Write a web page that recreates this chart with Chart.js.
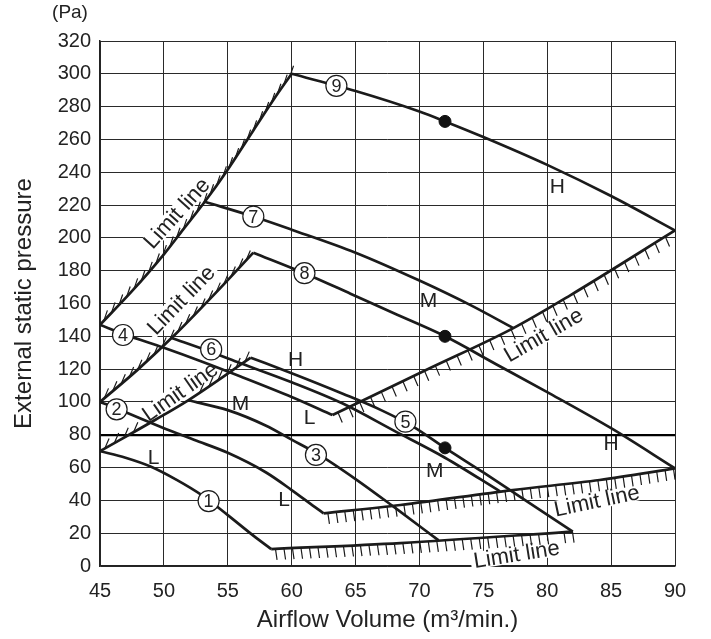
<!DOCTYPE html>
<html>
<head>
<meta charset="utf-8">
<script src="https://cdn.jsdelivr.net/npm/chart.js@4.4.0/dist/chart.umd.min.js"></script>
<style>
  html, body { margin: 0; padding: 0; background: #fff; }
  #wrap { width: 711px; height: 639px; position: relative; }
</style>
</head>
<body>
<div id="wrap"><canvas id="fanChart" width="711" height="639"></canvas></div>
<script>
// ---------------------------------------------------------
// Fan curves: [airflow m3/min, external static pressure Pa]
// ---------------------------------------------------------
const curve1 = [[45, 70], [47, 66], [49, 60.5], [51, 52.5], [53, 43], [55, 31], [57, 18.5], [58.4, 10.3]];
const curve2 = [[45, 100], [46.3, 96], [50, 84], [52.4, 76.8], [55, 69], [58, 57], [60, 46.3], [61.8, 36], [62.5, 32.1]];
const curve3 = [[51.9, 101], [55, 95], [58, 85.5], [60, 77], [62, 68.5], [65, 53], [68, 36], [71.5, 15.6]];
const curve4 = [[45, 147], [47, 141], [50, 133], [53, 124.5], [56, 115.5], [60, 103], [63.2, 92]];
const curve5 = [[56.8, 127], [60, 117.5], [64, 105], [67, 95], [69.5, 85], [72, 72], [75, 57], [78, 41.5], [82, 21]];
const curve6 = [[50.6, 139], [53.5, 131], [56, 123.6], [60, 112], [64, 99], [68, 82.5], [72, 66], [76.3, 45.5]];
const curve7 = [[53.2, 222], [57, 213], [60, 205], [65, 191], [70, 174], [74, 159], [77.35, 145]];
const curve8 = [[57, 191], [61, 178.5], [64.6, 166], [68, 154], [72, 140], [76, 123], [80, 106], [85, 84], [90, 59.5]];
const curve9 = [[60, 300], [65, 289.5], [70, 277], [72, 271], [75, 261.5], [80, 244.5], [85, 225.5], [90, 204.5]];

// limit lines
const limitA = [[45, 147], [47.5, 167.5], [50, 190], [51.5, 205], [53.2, 222], [54.9, 240.5], [57, 265.5], [59, 289], [60, 300]];
const limitB = [[63.2, 92], [70.8, 120.5], [77.35, 145], [81.8, 165], [90, 204.5]];
const limitC = [[45, 70], [49.3, 89], [51.9, 101], [56.8, 127]];
const limitD = [[45, 100], [48, 120], [51, 142], [54, 166], [57, 191]];
const limitE = [[62.5, 32.1], [68.5, 37.2], [77.3, 46.3], [84.1, 52.4], [90, 59.5]];
const limitF = [[58.4, 10.3], [68.5, 14], [82, 21]];

// rated points
const dotsX = [72, 72, 72];
const dotsY = [271, 140, 72];

// axes
const xMin = 45, xMax = 90, xStep = 5;
const yMin = 0, yMax = 320, yStep = 10, yLabelStep = 20;

// annotations (data coordinates)
const curveNumbers = [
  { text: '1', x: 53.5, y: 39.6 }, { text: '2', x: 46.3, y: 95.5 }, { text: '3', x: 61.9, y: 67.7 },
  { text: '4', x: 46.8, y: 140.8 }, { text: '5', x: 68.9, y: 88 }, { text: '6', x: 53.7, y: 132 },
  { text: '7', x: 57, y: 213 }, { text: '8', x: 61, y: 178.5 }, { text: '9', x: 63.5, y: 292.7 }
];
const tapLabels = [
  { text: 'L', x: 49.2, y: 65.7 }, { text: 'L', x: 59.4, y: 40.2 }, { text: 'M', x: 56, y: 98.8 },
  { text: 'L', x: 61.4, y: 90 }, { text: 'H', x: 60.3, y: 125.6 }, { text: 'M', x: 71.2, y: 57.5 },
  { text: 'M', x: 70.7, y: 161.2 }, { text: 'H', x: 85, y: 74.4 }, { text: 'H', x: 80.8, y: 230.7 }
];
const limitLabels = [
  { x: 51.0, y: 215.1, angle: -48 }, { x: 51.34, y: 162.2, angle: -46 }, { x: 51.26, y: 106.3, angle: -35 },
  { x: 79.7, y: 140.9, angle: -30 }, { x: 83.87, y: 39.8, angle: -12 }, { x: 77.6, y: 7.2, angle: -9 }
];

const FONT = "'Liberation Sans', Arial, Helvetica, sans-serif";
const INK = '#1b1b1b';

Chart.defaults.font.family = FONT;
Chart.defaults.color = '#222';

const toPts = arr => arr.map(([x, y]) => ({ x, y }));

function curveSet(arr) {
  return {
    data: toPts(arr), borderColor: INK, borderWidth: 2.7, pointRadius: 0,
    cubicInterpolationMode: 'monotone', fill: false, order: 2
  };
}
function limitSet(arr, hatch, gap) {
  return Object.assign(curveSet(arr), { hatch, gap });
}

// ---------------------------------------------------------
// decoration plugin: hatches, circled numbers, labels
// ---------------------------------------------------------
function densify(points) {
  const out = [];
  for (let i = 0; i < points.length - 1; i++) {
    const p0 = points[i], p1 = points[i + 1];
    const c1x = p0.cp2x ?? p0.x, c1y = p0.cp2y ?? p0.y;
    const c2x = p1.cp1x ?? p1.x, c2y = p1.cp1y ?? p1.y;
    for (let k = 0; k < 16; k++) {
      const t = k / 16, u = 1 - t;
      out.push({
        x: u * u * u * p0.x + 3 * u * u * t * c1x + 3 * u * t * t * c2x + t * t * t * p1.x,
        y: u * u * u * p0.y + 3 * u * u * t * c1y + 3 * u * t * t * c2y + t * t * t * p1.y
      });
    }
  }
  const last = points[points.length - 1];
  out.push({ x: last.x, y: last.y });
  return out;
}

function inBox(px, py, b) {
  const dx = px - b.cx, dy = py - b.cy;
  const c = Math.cos(-b.a), s = Math.sin(-b.a);
  const u = dx * c - dy * s, v = dx * s + dy * c;
  return Math.abs(u) <= b.w / 2 && Math.abs(v) <= b.h / 2;
}

const decor = {
  id: 'decor',
  beforeDatasetsDraw(chart) {
    const { ctx, scales: { x, y } } = chart;
    ctx.save();
    ctx.font = '22px ' + FONT;
    const w = ctx.measureText('Limit line').width;
    chart.$boxes = limitLabels.map(l => ({
      cx: x.getPixelForValue(l.x), cy: y.getPixelForValue(l.y),
      a: l.angle * Math.PI / 180, w: w + 6, h: 17
    }));
    ctx.fillStyle = '#fff';
    chart.$boxes.forEach(b => {
      ctx.save();
      ctx.translate(b.cx, b.cy);
      ctx.rotate(b.a);
      ctx.fillRect(-b.w / 2, -b.h / 2, b.w, b.h);
      ctx.restore();
    });
    ctx.restore();
  },
  afterDatasetsDraw(chart) {
    const { ctx, scales: { x, y } } = chart;
    const boxes = chart.$boxes || [];
    ctx.save();

    // hatching along limit lines
    ctx.strokeStyle = INK;
    ctx.lineWidth = 1.2;
    ctx.beginPath();
    chart.data.datasets.forEach((ds, i) => {
      if (!ds.hatch) return;
      const pts = densify(chart.getDatasetMeta(i).data);
      const [hx, hy] = ds.hatch;
      let carry = ds.gap / 2;
      for (let j = 0; j < pts.length - 1; j++) {
        const a = pts[j], b = pts[j + 1];
        const len = Math.hypot(b.x - a.x, b.y - a.y);
        let t = carry;
        while (t <= len) {
          const px = a.x + (b.x - a.x) * t / len;
          const py = a.y + (b.y - a.y) * t / len;
          if (!boxes.some(bx => inBox(px + hx * 0.6, py + hy * 0.6, bx))) {
            ctx.moveTo(px, py);
            ctx.lineTo(px + hx, py + hy);
          }
          t += ds.gap;
        }
        carry = t - len;
      }
    });
    ctx.stroke();

    // "Limit line" texts
    ctx.fillStyle = '#222';
    ctx.font = '22px ' + FONT;
    ctx.textAlign = 'center';
    ctx.textBaseline = 'middle';
    boxes.forEach(b => {
      ctx.save();
      ctx.translate(b.cx, b.cy);
      ctx.rotate(b.a);
      ctx.fillText('Limit line', 0, 1);
      ctx.restore();
    });

    // H / M / L
    ctx.font = '21px ' + FONT;
    tapLabels.forEach(l => ctx.fillText(l.text, x.getPixelForValue(l.x), y.getPixelForValue(l.y)));

    // circled curve numbers
    ctx.font = '18px ' + FONT;
    ctx.lineWidth = 1.2;
    curveNumbers.forEach(n => {
      const cx = x.getPixelForValue(n.x), cy = y.getPixelForValue(n.y);
      ctx.beginPath();
      ctx.arc(cx, cy, 10.5, 0, Math.PI * 2);
      ctx.fillStyle = '#fff';
      ctx.fill();
      ctx.strokeStyle = INK;
      ctx.stroke();
      ctx.fillStyle = '#222';
      ctx.fillText(n.text, cx, cy + 1);
    });

    // unit
    ctx.font = '19px ' + FONT;
    ctx.fillText('(Pa)', chart.chartArea.left - 30, chart.chartArea.top - 28);
    ctx.restore();
  }
};

// ---------------------------------------------------------
// chart
// ---------------------------------------------------------
const datasets = [
  curveSet(curve1), curveSet(curve2), curveSet(curve3), curveSet(curve4), curveSet(curve5),
  curveSet(curve6), curveSet(curve7), curveSet(curve8), curveSet(curve9),
  limitSet(limitA, [3.6, -10.5], 11), limitSet(limitD, [4.3, -10], 11), limitSet(limitC, [4.3, -10], 11),
  limitSet(limitB, [4.3, 10], 12), limitSet(limitE, [1.6, 11], 8.5), limitSet(limitF, [1.6, 11], 8.5),
  {
    type: 'scatter', data: dotsX.map((v, i) => ({ x: v, y: dotsY[i] })),
    pointRadius: 6, backgroundColor: '#111', borderColor: '#111', order: 1
  }
];

new Chart(document.getElementById('fanChart'), {
  type: 'line',
  data: { datasets },
  options: {
    responsive: false,
    animation: false,
    layout: { padding: { top: 41, right: 36, bottom: 0, left: 0 } },
    plugins: { legend: { display: false }, tooltip: { enabled: false } },
    scales: {
      x: {
        type: 'linear', min: xMin, max: xMax,
        ticks: { stepSize: xStep, padding: 13, color: '#222', font: { size: 20 } },
        grid: { color: '#2a2a2a', lineWidth: 1, drawTicks: false },
        border: { color: '#222', width: 1.5 },
        title: { display: true, text: 'Airflow Volume (m³/min.)', color: '#222', font: { size: 24 }, padding: { top: 0, bottom: 4 } },
        afterFit: s => { s.height = 73; }
      },
      y: {
        type: 'linear', min: yMin, max: yMax,
        ticks: {
          stepSize: yStep, padding: 9, color: '#222', font: { size: 20 },
          callback: v => (v % yLabelStep === 0 ? v : '')
        },
        grid: {
          drawTicks: false,
          color: c => (c.tick.value === 80 ? '#000' : (c.tick.value % yLabelStep === 0 ? '#2a2a2a' : '#7a7a7a')),
          lineWidth: c => (c.tick.value === 80 ? 2.2 : (c.tick.value % yLabelStep === 0 ? 1 : 1.3))
        },
        border: { color: '#222', width: 1.5 },
        title: { display: true, text: 'External static pressure', color: '#222', font: { size: 24 }, padding: { top: 10, bottom: 0 } },
        afterFit: s => { s.width = 100; }
      }
    }
  },
  plugins: [decor]
});
</script>
</body>
</html>
